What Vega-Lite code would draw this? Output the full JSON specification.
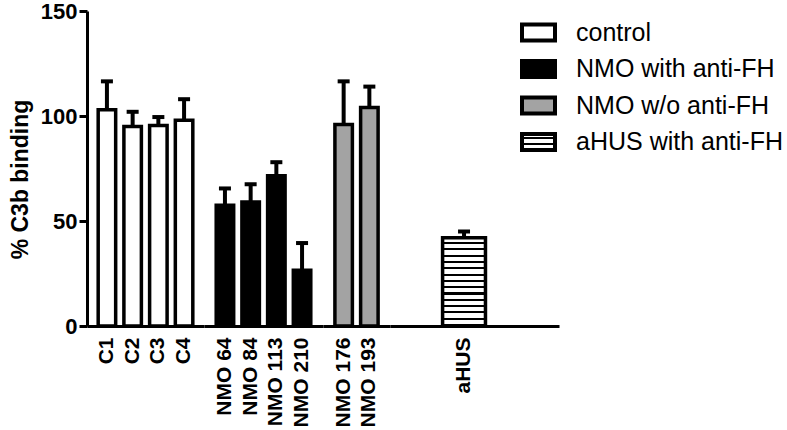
{
  "$schema": "https://vega.github.io/schema/vega-lite/v6.json",
  "padding": {"left": 9, "top": 0, "right": 0, "bottom": 0},
  "config": {
    "font": "Liberation Sans",
    "view": {"stroke": null},
    "axis": {"grid": false, "domainColor": "black", "domainWidth": 3, "tickColor": "black", "tickWidth": 3, "labelColor": "black", "titleColor": "black"},
    "concat": {"spacing": 0}
  },
  "data": {"values": [
    {"sample": "C1", "group": "control", "value": 103, "upper": 116.5},
    {"sample": "C2", "group": "control", "value": 95, "upper": 102},
    {"sample": "C3", "group": "control", "value": 95.5, "upper": 99.5},
    {"sample": "C4", "group": "control", "value": 98, "upper": 108},
    {"sample": "NMO 64", "group": "NMO with anti-FH", "value": 57.5, "upper": 65.5},
    {"sample": "NMO 84", "group": "NMO with anti-FH", "value": 59, "upper": 67.5},
    {"sample": "NMO 113", "group": "NMO with anti-FH", "value": 71.5, "upper": 78},
    {"sample": "NMO 210", "group": "NMO with anti-FH", "value": 26.5, "upper": 39.5},
    {"sample": "NMO 176", "group": "NMO w/o anti-FH", "value": 96, "upper": 116.5},
    {"sample": "NMO 193", "group": "NMO w/o anti-FH", "value": 104, "upper": 114},
    {"sample": "aHUS", "group": "aHUS with anti-FH", "value": 42, "upper": 45}
  ]},
  "hconcat": [
    {
      "width": 117, "height": 315,
      "transform": [{"filter": "datum.group === 'control'"}],
      "encoding": {"x": {"field": "sample", "type": "nominal", "sort": null, "scale": {"paddingInner": 0.32, "paddingOuter": 0.435},
        "axis": {"title": null, "labelAngle": -90, "ticks": false, "labelPadding": 11, "labelFontSize": 21, "labelFontWeight": "bold"}}},
      "layer": [
        {"mark": {"type": "rule", "strokeWidth": 4, "color": "black"},
         "encoding": {"y": {"field": "value", "type": "quantitative", "scale": {"domain": [0, 150], "nice": false},
           "axis": {"values": [0, 50, 100, 150], "title": "% C3b binding", "tickSize": 8, "labelFontSize": 22, "labelFontWeight": "bold", "labelPadding": 2, "titleFontSize": 23, "titleFontWeight": "bold", "titlePadding": 8, "titleY": 168}},
           "y2": {"field": "upper"}}},
        {"mark": {"type": "tick", "size": 12, "thickness": 4, "color": "black", "opacity": 1},
         "encoding": {"y": {"field": "upper", "type": "quantitative"}}},
        {"mark": {"type": "bar", "stroke": "black", "strokeWidth": 3.5},
         "encoding": {"y": {"field": "value", "type": "quantitative"},
           "fill": {"field": "group", "type": "nominal",
             "scale": {"domain": ["control", "NMO with anti-FH", "NMO w/o anti-FH", "aHUS with anti-FH"],
               "range": ["white", "black", "#a3a3a3", {"expr": "{gradient: 'linear', x1: 0, y1: 0, x2: 0, y2: 1, stops: [{offset: 0, color: 'white'}, {offset: 0.2, color: 'white'}, {offset: 0.2, color: 'black'}, {offset: 0.333, color: 'black'}, {offset: 0.333, color: 'white'}, {offset: 0.533, color: 'white'}, {offset: 0.533, color: 'black'}, {offset: 0.667, color: 'black'}, {offset: 0.667, color: 'white'}, {offset: 0.867, color: 'white'}, {offset: 0.867, color: 'black'}, {offset: 1, color: 'black'}]}"}]},
             "legend": {"title": null, "orient": "none", "legendX": 433, "legendY": 3, "labelFontSize": 25, "labelColor": "black", "labelFont": "Liberation Sans", "labelLimit": 0,
               "symbolType": "M-1,-0.485H1V0.485H-1Z", "symbolSize": 1089, "symbolStrokeWidth": 4, "symbolStrokeColor": "black", "symbolOpacity": 1, "rowPadding": 1.5, "labelOffset": 19}}}}
      ]
    },
    {
      "width": 119, "height": 315,
      "transform": [{"filter": "datum.group === 'NMO with anti-FH'"}],
      "encoding": {"x": {"field": "sample", "type": "nominal", "sort": null, "scale": {"paddingInner": 0.32, "paddingOuter": 0.475},
        "axis": {"title": null, "labelAngle": -90, "ticks": false, "labelPadding": 11, "labelFontSize": 21, "labelFontWeight": "bold"}}},
      "layer": [
        {"mark": {"type": "rule", "strokeWidth": 4, "color": "black"},
         "encoding": {"y": {"field": "value", "type": "quantitative", "scale": {"domain": [0, 150], "nice": false}, "axis": null}, "y2": {"field": "upper"}}},
        {"mark": {"type": "tick", "size": 12, "thickness": 4, "color": "black", "opacity": 1},
         "encoding": {"y": {"field": "upper", "type": "quantitative"}}},
        {"mark": {"type": "bar", "stroke": "black", "strokeWidth": 3.5},
         "encoding": {"y": {"field": "value", "type": "quantitative"}, "fill": {"field": "group", "type": "nominal"}}}
      ]
    },
    {
      "width": 67, "height": 315,
      "transform": [{"filter": "datum.group === 'NMO w/o anti-FH'"}],
      "encoding": {"x": {"field": "sample", "type": "nominal", "sort": null, "scale": {"paddingInner": 0.32, "paddingOuter": 0.463},
        "axis": {"title": null, "labelAngle": -90, "ticks": false, "labelPadding": 11, "labelFontSize": 21, "labelFontWeight": "bold"}}},
      "layer": [
        {"mark": {"type": "rule", "strokeWidth": 4, "color": "black"},
         "encoding": {"y": {"field": "value", "type": "quantitative", "scale": {"domain": [0, 150], "nice": false}, "axis": null}, "y2": {"field": "upper"}}},
        {"mark": {"type": "tick", "size": 12, "thickness": 4, "color": "black", "opacity": 1},
         "encoding": {"y": {"field": "upper", "type": "quantitative"}}},
        {"mark": {"type": "bar", "stroke": "black", "strokeWidth": 3.5},
         "encoding": {"y": {"field": "value", "type": "quantitative"}, "fill": {"field": "group", "type": "nominal"}}}
      ]
    },
    {
      "width": 169, "height": 315,
      "transform": [{"filter": "datum.group === 'aHUS with anti-FH'"}],
      "encoding": {"x": {"field": "sample", "type": "nominal", "sort": null, "scale": {"paddingInner": 0.32, "paddingOuter": 2.943, "align": 0.417},
        "axis": {"title": null, "labelAngle": -90, "ticks": false, "labelPadding": 11, "labelFontSize": 21, "labelFontWeight": "bold"}}},
      "layer": [
        {"mark": {"type": "rule", "strokeWidth": 4, "color": "black"},
         "encoding": {"y": {"field": "value", "type": "quantitative", "scale": {"domain": [0, 150], "nice": false}, "axis": null}, "y2": {"field": "upper"}}},
        {"mark": {"type": "tick", "size": 12, "thickness": 4, "color": "black", "opacity": 1},
         "encoding": {"y": {"field": "upper", "type": "quantitative"}}},
        {"mark": {"type": "bar", "stroke": "black", "strokeWidth": 3.5,
          "fill": {"gradient": "linear", "x1": 0, "y1": 0, "x2": 0, "y2": 1, "stops": [
            {"offset": 0, "color": "white"}, {"offset": 0.0486, "color": "white"}, {"offset": 0.0486, "color": "black"}, {"offset": 0.0714, "color": "black"},
            {"offset": 0.0714, "color": "white"}, {"offset": 0.12, "color": "white"}, {"offset": 0.12, "color": "black"}, {"offset": 0.1429, "color": "black"},
            {"offset": 0.1429, "color": "white"}, {"offset": 0.1914, "color": "white"}, {"offset": 0.1914, "color": "black"}, {"offset": 0.2143, "color": "black"},
            {"offset": 0.2143, "color": "white"}, {"offset": 0.2629, "color": "white"}, {"offset": 0.2629, "color": "black"}, {"offset": 0.2857, "color": "black"},
            {"offset": 0.2857, "color": "white"}, {"offset": 0.3343, "color": "white"}, {"offset": 0.3343, "color": "black"}, {"offset": 0.3571, "color": "black"},
            {"offset": 0.3571, "color": "white"}, {"offset": 0.4057, "color": "white"}, {"offset": 0.4057, "color": "black"}, {"offset": 0.4286, "color": "black"},
            {"offset": 0.4286, "color": "white"}, {"offset": 0.4771, "color": "white"}, {"offset": 0.4771, "color": "black"}, {"offset": 0.5, "color": "black"},
            {"offset": 0.5, "color": "white"}, {"offset": 0.5486, "color": "white"}, {"offset": 0.5486, "color": "black"}, {"offset": 0.5714, "color": "black"},
            {"offset": 0.5714, "color": "white"}, {"offset": 0.62, "color": "white"}, {"offset": 0.62, "color": "black"}, {"offset": 0.6429, "color": "black"},
            {"offset": 0.6429, "color": "white"}, {"offset": 0.6914, "color": "white"}, {"offset": 0.6914, "color": "black"}, {"offset": 0.7143, "color": "black"},
            {"offset": 0.7143, "color": "white"}, {"offset": 0.7629, "color": "white"}, {"offset": 0.7629, "color": "black"}, {"offset": 0.7857, "color": "black"},
            {"offset": 0.7857, "color": "white"}, {"offset": 0.8343, "color": "white"}, {"offset": 0.8343, "color": "black"}, {"offset": 0.8571, "color": "black"},
            {"offset": 0.8571, "color": "white"}, {"offset": 0.9057, "color": "white"}, {"offset": 0.9057, "color": "black"}, {"offset": 0.9286, "color": "black"},
            {"offset": 0.9286, "color": "white"}, {"offset": 0.9771, "color": "white"}, {"offset": 0.9771, "color": "black"}, {"offset": 1, "color": "black"}]}},
         "encoding": {"y": {"field": "value", "type": "quantitative"}}}
      ]
    }
  ]
}
